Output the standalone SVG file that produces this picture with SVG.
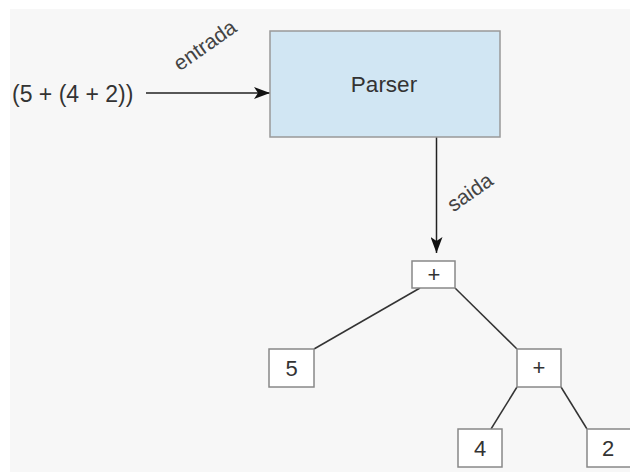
<svg xmlns="http://www.w3.org/2000/svg" width="630" height="472" viewBox="0 0 630 472">
  <style>
    text { font-family: "Liberation Sans", Arial, sans-serif; fill: #333; }
    .box { fill: #ffffff; stroke: #888; stroke-width: 1.5; }
    .edge { stroke: #333; stroke-width: 1.5; fill: none; }
    .flow { stroke: #222; stroke-width: 1.5; fill: none; marker-end: url(#head); }
    .num { font-size: 22px; text-anchor: middle; }
    .lbl { font-size: 21px; text-anchor: middle; fill: #444; }
  </style>
  <defs>
    <marker id="head" viewBox="0 0 16 12" refX="16" refY="6" markerWidth="16" markerHeight="12" markerUnits="userSpaceOnUse" orient="auto">
      <path d="M0,0 L16,6 L0,12 L4,6 Z" fill="#111"/>
    </marker>
  </defs>

  <rect width="630" height="472" fill="#ffffff"/>
  <rect x="10" y="9" width="620" height="463" fill="#f7f7f7"/>

  <g id="connectors">
    <line class="flow" x1="146" y1="93" x2="270" y2="93"/>
    <line class="flow" x1="436.5" y1="137" x2="436.5" y2="253"/>
    <line class="edge" x1="420" y1="288" x2="314" y2="349"/>
    <line class="edge" x1="455" y1="288" x2="517" y2="349"/>
    <line class="edge" x1="517" y1="387" x2="491" y2="429"/>
    <line class="edge" x1="561" y1="387" x2="587" y2="429"/>
    <text class="lbl" transform="translate(209 51) rotate(-35)">entrada</text>
    <text class="lbl" transform="translate(474 198) rotate(-35)">saida</text>
  </g>

  <g id="input">
    <text x="12" y="102" font-size="23">(5 + (4 + 2))</text>
  </g>

  <g id="parser">
    <rect x="270" y="31" width="230" height="106" fill="#d1e6f3" stroke="#999" stroke-width="1.5"/>
    <text x="384" y="92" font-size="22.5" text-anchor="middle">Parser</text>
  </g>

  <g id="plus-root">
    <rect class="box" x="412" y="261" width="43" height="27"/>
    <text class="num" x="434" y="282">+</text>
  </g>

  <g id="five">
    <rect class="box" x="269" y="349" width="45" height="38"/>
    <text class="num" x="291.5" y="376">5</text>
  </g>

  <g id="plus-inner">
    <rect class="box" x="517" y="349" width="44" height="38"/>
    <text class="num" x="539" y="375">+</text>
  </g>

  <g id="four">
    <rect class="box" x="458" y="429" width="44" height="38"/>
    <text class="num" x="480" y="456">4</text>
  </g>

  <g id="two">
    <rect class="box" x="587" y="429" width="44" height="38"/>
    <text class="num" x="608" y="456">2</text>
  </g>
</svg>
